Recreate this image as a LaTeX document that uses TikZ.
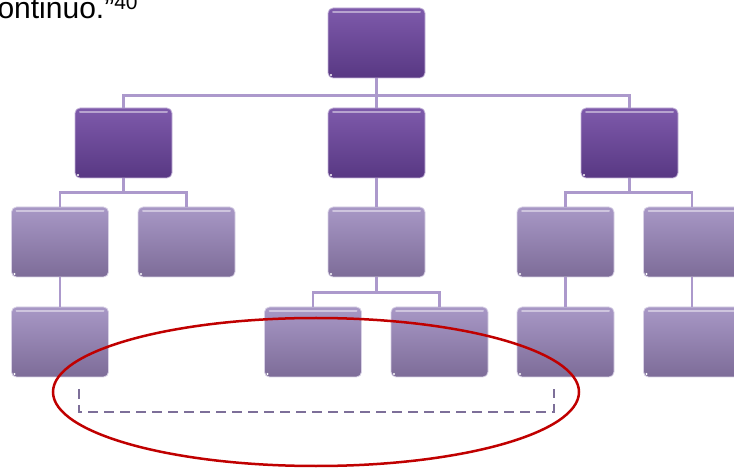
\documentclass[tikz,border=0pt]{standalone}
\usepackage{fontspec}
\setmainfont{Liberation Sans}

\definecolor{deepTop}{HTML}{7E5AAB}
\definecolor{deepBot}{HTML}{583883}
\definecolor{paleTop}{HTML}{A898C6}
\definecolor{paleBot}{HTML}{7D6C98}
\definecolor{linkcol}{HTML}{AC99CC}
\definecolor{ringred}{HTML}{C00000}
\definecolor{dashcol}{HTML}{7D6F99}

\tikzset{
  card/.style={rounded corners=5pt, minimum width=97pt, minimum height=70pt,
    inner sep=0pt, draw=white!55!#1, line width=0.8pt,
    path picture={
      \draw[white, opacity=.45, line width=2pt, line cap=round]
        ([xshift=5pt,yshift=-4pt]path picture bounding box.north west) --
        ([xshift=-5pt,yshift=-4pt]path picture bounding box.north east);
      \fill[white] ([xshift=3pt,yshift=3pt]path picture bounding box.south west) circle (1.2pt);
    }},
  deepcard/.style={card=deepTop, top color=deepTop, bottom color=deepBot},
  palecard/.style={card=paleTop, top color=paleTop, bottom color=paleBot},
  link/.style={draw=linkcol, line width=2.5pt},
}

\begin{document}
\begin{tikzpicture}[x=1pt,y=-1pt]
      \useasboundingbox (0,0) rectangle (734,470);
      \node[anchor=base west, font=\fontsize{30}{34}\selectfont] (quote)
        at (-6,19) {ontinuo.”\textsuperscript{40}};
      \draw
        (376.5,43) node[deepcard] (0){}
        (123.5,143) node[deepcard] (1){}
        (376.5,143) node[deepcard] (2){}
        (629.5,143) node[deepcard] (3){}
        (60,242) node[palecard] (4){}
        (186.5,242) node[palecard] (5){}
        (376.5,242) node[palecard] (6){}
        (565.5,242) node[palecard] (7){}
        (692,242) node[palecard] (8){}
        (60,342) node[palecard] (9){}
        (313,342) node[palecard] (10){}
        (439.5,342) node[palecard] (11){}
        (565.5,342) node[palecard] (12){}
        (692,342) node[palecard] (13){};
      \begin{scope}[link]
        \draw (0.south) -- ++(0,17) -| (1.north);
        \draw (0.south) -- ++(0,17) -| (2.north);
        \draw (0.south) -- ++(0,17) -| (3.north);
        \draw (1.south) -- ++(0,14) -| (4.north);
        \draw (1.south) -- ++(0,14) -| (5.north);
        \draw (2.south) -- (6.north);
        \draw (3.south) -- ++(0,14) -| (7.north);
        \draw (3.south) -- ++(0,14) -| (8.north);
        \draw (4.south) -- (9.north);
        \draw (6.south) -- ++(0,15) -| (10.north);
        \draw (6.south) -- ++(0,15) -| (11.north);
        \draw (7.south) -- (12.north);
        \draw (8.south) -- (13.north);
      \end{scope}
      \coordinate (d1) at (79,389);
      \coordinate (d2) at (554,389);
      \draw[dashcol, line width=1.3pt, dash pattern=on 10pt off 6pt]
        (d1) -- ++(0,23) -| (d2);
      \draw[ringred, line width=2.5pt] (316,392) ellipse [x radius=263, y radius=74];
    \end{tikzpicture}
\end{document}
